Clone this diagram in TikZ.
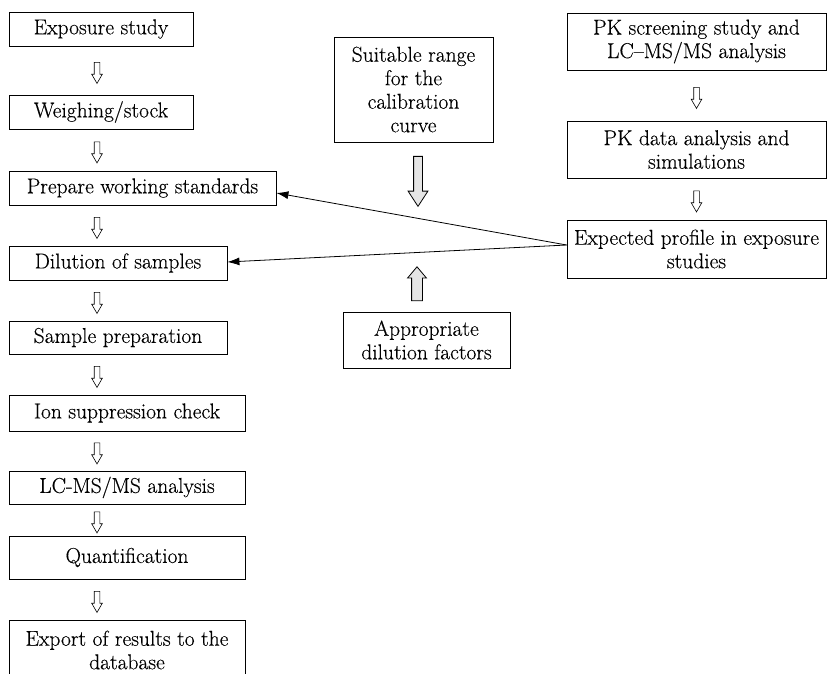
\documentclass[tikz,border=0pt]{standalone}
\usepackage{fontspec}
\setmainfont{Latin Modern Roman}[FakeBold=0.3]
\usepackage{tikz}
\usetikzlibrary{shapes.arrows, arrows.meta}

\tikzset{
  stepbox/.style={draw, line width=0.8pt, align=center, inner sep=0pt,
    font=\fontsize{21.5}{23.5}\selectfont},
  smallarrow/.style={single arrow, draw, fill=white, line width=0.6pt,
    inner sep=2.5pt, minimum height=21pt, minimum width=10pt,
    single arrow head extend=2.5pt, single arrow tip angle=60,
    shape border rotate=270},
  bigarrow/.style={single arrow, draw, fill=gray!20, line width=0.8pt,
    inner sep=4pt, minimum width=19pt, single arrow head extend=5.5pt,
    single arrow tip angle=66},
  feed/.style={line width=0.8pt, -{Latex[length=12pt,width=8pt]}}
}

\begin{document}
\begin{tikzpicture}[x=1pt, y=-1pt]
      \useasboundingbox (0,0) rectangle (828,673);
      \clip (0,0) rectangle (828,673);
      % left column
      \node [stepbox, minimum width=184pt, minimum height=34pt] (expo) at (101,29) {Exposure study};
      \node [stepbox, minimum width=184pt, minimum height=34pt] (weigh) at (101,112) {Weighing/stock};
      \node [stepbox, minimum width=267pt, minimum height=34pt] (prep) at (142.5,188) {Prepare working standards};
      \node [stepbox, minimum width=218pt, minimum height=34pt] (dil) at (118,263) {Dilution of samples};
      \node [stepbox, minimum width=218pt, minimum height=33pt] (sprep) at (118,337.5) {Sample preparation};
      \node [stepbox, minimum width=236pt, minimum height=36pt] (ion) at (127,413) {Ion suppression check};
      \node [stepbox, minimum width=236pt, minimum height=33pt] (lcms) at (127,487.5) {LC-MS/MS analysis};
      \node [stepbox, minimum width=236pt, minimum height=43pt] (quant) at (127,557.5) {Quantification};
      \node [stepbox, minimum width=236pt, minimum height=60pt] (export) at (127,650) {Export of results to the\\database};
      \coordinate (spine) at (97,0);
      % middle
      \node [stepbox, minimum width=159pt, minimum height=105pt] (range) at (413.5,89.5) {Suitable range\\for the\\calibration\\curve};
      \node [stepbox, minimum width=167pt, minimum height=56pt] (factors) at (426.5,340) {Appropriate\\dilution factors};
      \node [bigarrow, minimum height=50pt, shape border rotate=270] (downarr) at (418,178) {};
      \node [bigarrow, minimum height=34pt, minimum width=18pt, inner sep=5pt, single arrow head extend=4pt,
        single arrow tip angle=80, shape border rotate=90] (uparr) at (417,287) {};
      % right column
      \node [stepbox, minimum width=259pt, minimum height=57pt] (screen) at (696.5,41.5) {PK screening study and\\LC--MS/MS analysis};
      \node [stepbox, minimum width=259pt, minimum height=57pt] (pkdata) at (696.5,149.5) {PK data analysis and\\simulations};
      \node [stepbox, minimum width=259pt, minimum height=58pt] (profile) at (696.5,249) {Expected profile in exposure\\studies};
      % small arrows
      \foreach \a/\b in {expo/weigh, weigh/prep, prep/dil, dil/sprep, sprep/ion, ion/lcms, lcms/quant, quant/export}
        \path (\a.south -| spine) -- node [smallarrow] {} (\b.north -| spine);
      \foreach \a/\b in {screen/pkdata, pkdata/profile}
        \path (\a.south) -- node [smallarrow] {} (\b.north);
      % feedback arrows
      \draw [feed] ([yshift=4pt]profile.west) -- ([yshift=-5pt]prep.east);
      \draw [feed] ([yshift=4pt]profile.west) -- ([yshift=1pt]dil.east);
    \end{tikzpicture}
\end{document}
